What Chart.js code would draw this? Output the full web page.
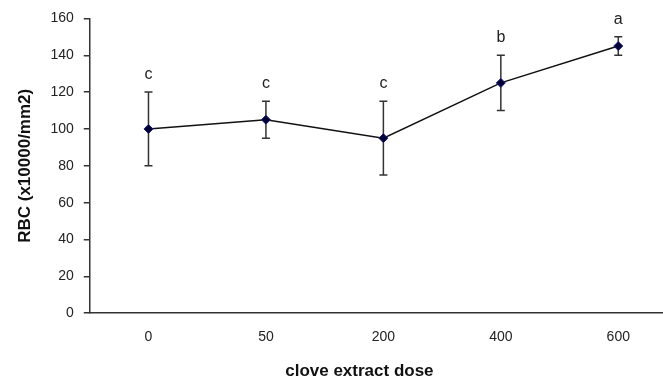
<!DOCTYPE html>
<html>
<head>
<meta charset="utf-8">
<script src="https://cdn.jsdelivr.net/npm/chart.js@4"></script>
<style>
    html, body { margin: 0; padding: 0; background: #fff; overflow: hidden; }
    #wrap { width: 690px; height: 382px; }
</style>
</head>
<body>
<div id="wrap"><canvas id="lineChart"></canvas></div>
<script>
const doses = ['0', '50', '200', '400', '600'];
const rbcMeans = [100, 105, 95, 125, 145];
const errLow = [80, 95, 75, 110, 140];
const errHigh = [120, 115, 115, 140, 150];
const groupLetters = ['c', 'c', 'c', 'b', 'a'];
const yTicks = [0, 20, 40, 60, 80, 100, 120, 140, 160];
const xTitle = 'clove extract dose';

const fontName = '"Liberation Sans", Arial, sans-serif';

// Ritar felstaplar under punkterna
const errorBars = {
    id: 'errorBars',
    beforeDatasetsDraw(chart) {
        const ctx = chart.ctx;
        const x = chart.scales.x;
        const y = chart.scales.y;
        ctx.save();
        ctx.strokeStyle = '#333';
        ctx.lineWidth = 1.5;
        rbcMeans.forEach((v, i) => {
            const px = x.getPixelForValue(i);
            const top = y.getPixelForValue(errHigh[i]);
            const bottom = y.getPixelForValue(errLow[i]);
            ctx.beginPath();
            ctx.moveTo(px, top);
            ctx.lineTo(px, bottom);
            ctx.moveTo(px - 4, top);
            ctx.lineTo(px + 4, top);
            ctx.moveTo(px - 4, bottom);
            ctx.lineTo(px + 4, bottom);
            ctx.stroke();
        });
        ctx.restore();
    },
    // Bokstäverna ovanför felstaplarna
    afterDatasetsDraw(chart) {
        const ctx = chart.ctx;
        const x = chart.scales.x;
        const y = chart.scales.y;
        ctx.save();
        ctx.fillStyle = '#222';
        ctx.font = '16px ' + fontName;
        ctx.textAlign = 'center';
        ctx.textBaseline = 'alphabetic';
        groupLetters.forEach((letter, i) => {
            const px = x.getPixelForValue(i);
            const top = y.getPixelForValue(errHigh[i]);
            ctx.fillText(letter, px, top - 13);
        });
        ctx.restore();
    },
    // x-axelns titel, lite vänster om mitten som i originalet
    afterDraw(chart) {
        const ctx = chart.ctx;
        const x = chart.scales.x;
        ctx.save();
        ctx.fillStyle = '#111';
        ctx.font = 'bold 17px ' + fontName;
        ctx.textAlign = 'center';
        ctx.textBaseline = 'middle';
        ctx.fillText(xTitle, x.getPixelForValue(2) - 24, chart.chartArea.bottom + 58);
        ctx.restore();
    }
};

new Chart(document.getElementById('lineChart'), {
    type: 'line',
    data: {
        labels: doses,
        datasets: [{
            data: rbcMeans,
            borderColor: '#111',
            borderWidth: 1.5,
            tension: 0,
            pointStyle: 'rectRot',
            pointRadius: 4.5,
            pointBackgroundColor: '#000033',
            pointBorderColor: '#1a1a80',
            pointBorderWidth: 1
        }]
    },
    options: {
        responsive: true,
        maintainAspectRatio: false,
        animation: false,
        layout: {
            padding: { top: 13, right: 13, left: 15, bottom: 28 }
        },
        plugins: {
            legend: { display: false },
            tooltip: { enabled: false }
        },
        scales: {
            x: {
                offset: true,
                grid: { display: false },
                border: { display: true, color: '#333', width: 1.5 },
                ticks: {
                    color: '#222',
                    padding: 8,
                    font: { family: fontName, size: 14 }
                }
            },
            y: {
                min: 0,
                max: 160,
                afterBuildTicks(scale) {
                    scale.ticks = yTicks.map(v => ({ value: v }));
                },
                grid: {
                    display: true,
                    drawOnChartArea: false,
                    drawTicks: true,
                    tickLength: 6,
                    color: '#333',
                    lineWidth: 1.5
                },
                border: { display: true, color: '#333', width: 1.5 },
                ticks: {
                    color: '#222',
                    padding: 10,
                    font: { family: fontName, size: 14 }
                },
                title: {
                    display: true,
                    text: 'RBC (x10000/mm2)',
                    color: '#111',
                    padding: { top: 0, bottom: 5 },
                    font: { family: fontName, size: 17, weight: 'bold' }
                }
            }
        }
    },
    plugins: [errorBars]
});
</script>
</body>
</html>
